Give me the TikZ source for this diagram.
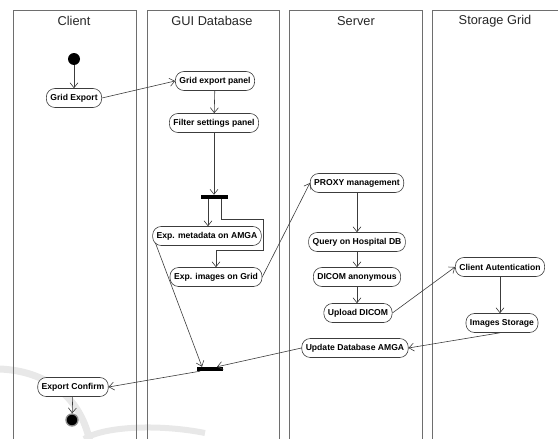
\documentclass[tikz,border=0pt]{standalone}
\usepackage{fontspec}
\setmainfont{Liberation Sans}
\usetikzlibrary{arrows.meta,positioning}
\definecolor{lanegray}{RGB}{110,110,110}
\definecolor{ink}{RGB}{60,60,60}
\tikzset{
  >={Straight Barb[length=5pt,width=8pt]},
  lane/.style={draw=lanegray,line width=0.8pt},
  lanetitle/.style={font=\fontsize{12.8}{15}\selectfont,text=black!85},
  act/.style={draw=ink,fill=white,rounded corners=8.5pt,line width=0.6pt,
    minimum height=19pt,inner xsep=4pt,inner ysep=0pt,
    font=\fontsize{8.6}{10}\selectfont\bfseries},
  bar/.style={fill=black,inner sep=0pt,minimum width=#1,minimum height=4pt},
  bar/.default=27pt,
  flow/.style={->,draw=ink,line width=0.6pt},
  initial/.style={circle,fill=black,inner sep=0pt,minimum size=12pt},
  final/.style={circle,fill=black,draw=black!45,line width=1.3pt,inner sep=0pt,minimum size=12pt},
}
\begin{document}
\begin{tikzpicture}[x=1pt,y=-1pt]
  \useasboundingbox (0,0) rectangle (558,439);
  % faint swoosh in the back
  \draw[black!9,line width=7pt] (0,369) .. controls (45,371) and (80,395) .. (90,442);
  \draw[black!9,line width=6pt] (84,439) .. controls (105,426) and (160,424) .. (205,433);
  % swimlanes
  \draw[lane] (13,439) -- (13,10) -- (136,10) -- (136,439);
  \draw[lane] (147,439) -- (147,10) -- (279,10) -- (279,439);
  \draw[lane] (289,439) -- (289,10) -- (422,10) -- (422,439);
  \draw[lane] (432,439) -- (432,10) -- (562,10);
  \node[lanetitle] (tclient) at (74,21) {Client};
  \node[lanetitle] (tgui) at (212,21) {GUI Database};
  \node[lanetitle] (tserver) at (356,21) {Server};
  \node[lanetitle] (tgrid) at (495,21) {Storage Grid};
  % activities
  \node[initial] (start) at (74,59) {};
  \node[act] (gexp) at (74,98) {Grid Export};
  \node[act] (gpanel) at (215,81) {Grid export panel};
  \node[act] (filter) at (214,123) {Filter settings panel};
  \node[bar] (fork) at (214,197) {};
  \node[act] (meta) at (207,236) {Exp. metadata on AMGA};
  \node[act] (imgs) at (216,277) {Exp. images on Grid};
  \node[act] (proxy) at (357,183) {PROXY management};
  \node[act] (query) at (357,242) {Query on Hospital DB};
  \node[act] (dicom) at (357,277) {DICOM anonymous};
  \node[act] (upload) at (358,313) {Upload DICOM};
  \node[act] (auth) at (500,267) {Client Autentication};
  \node[act] (store) at (502,323) {Images Storage};
  \node[act] (update) at (355,348) {Update Database AMGA};
  \node[bar=26pt] (join) at (210,369) {};
  \node[act] (confirm) at (73,387) {Export Confirm};
  \node[final] (end) at (72,420) {};
  \coordinate (loopA) at (263,219);
  \coordinate (loopB) at (263,250);
  % flows
  \draw[flow] (start) -- (gexp);
  \draw[flow] (gexp.east) -- (gpanel.west);
  \draw[flow] (gpanel) -- (filter);
  \draw[flow] (filter.south) -- (fork.north);
  \draw[flow] ([xshift=-6pt]fork.south) -- ([xshift=-6pt]fork.south |- meta.north);
  \draw[flow] ([xshift=7pt]fork.south) |- (loopA) -- (loopB) -| (imgs.north);
  \draw[flow] ([xshift=3pt,yshift=3pt]meta.south west) -- ([xshift=-8pt]join.north);
  \draw[flow] (imgs.east) -- (proxy.west);
  \draw[flow] (proxy) -- (query);
  \draw[flow] (query) -- (dicom);
  \draw[flow] (dicom.south) -- (dicom.south |- upload.north);
  \draw[flow] (upload.east) -- (auth.west);
  \draw[flow] (auth.south) -- (auth.south |- store.north);
  \draw[flow] ([xshift=-2pt]store.south) -- (update.east);
  \draw[flow] (update.west) -- ([xshift=7pt]join.north);
  \draw[flow] ([xshift=-10pt]join.south) -- (confirm.east);
  \draw[flow] (confirm) -- (end);
\end{tikzpicture}
\end{document}
